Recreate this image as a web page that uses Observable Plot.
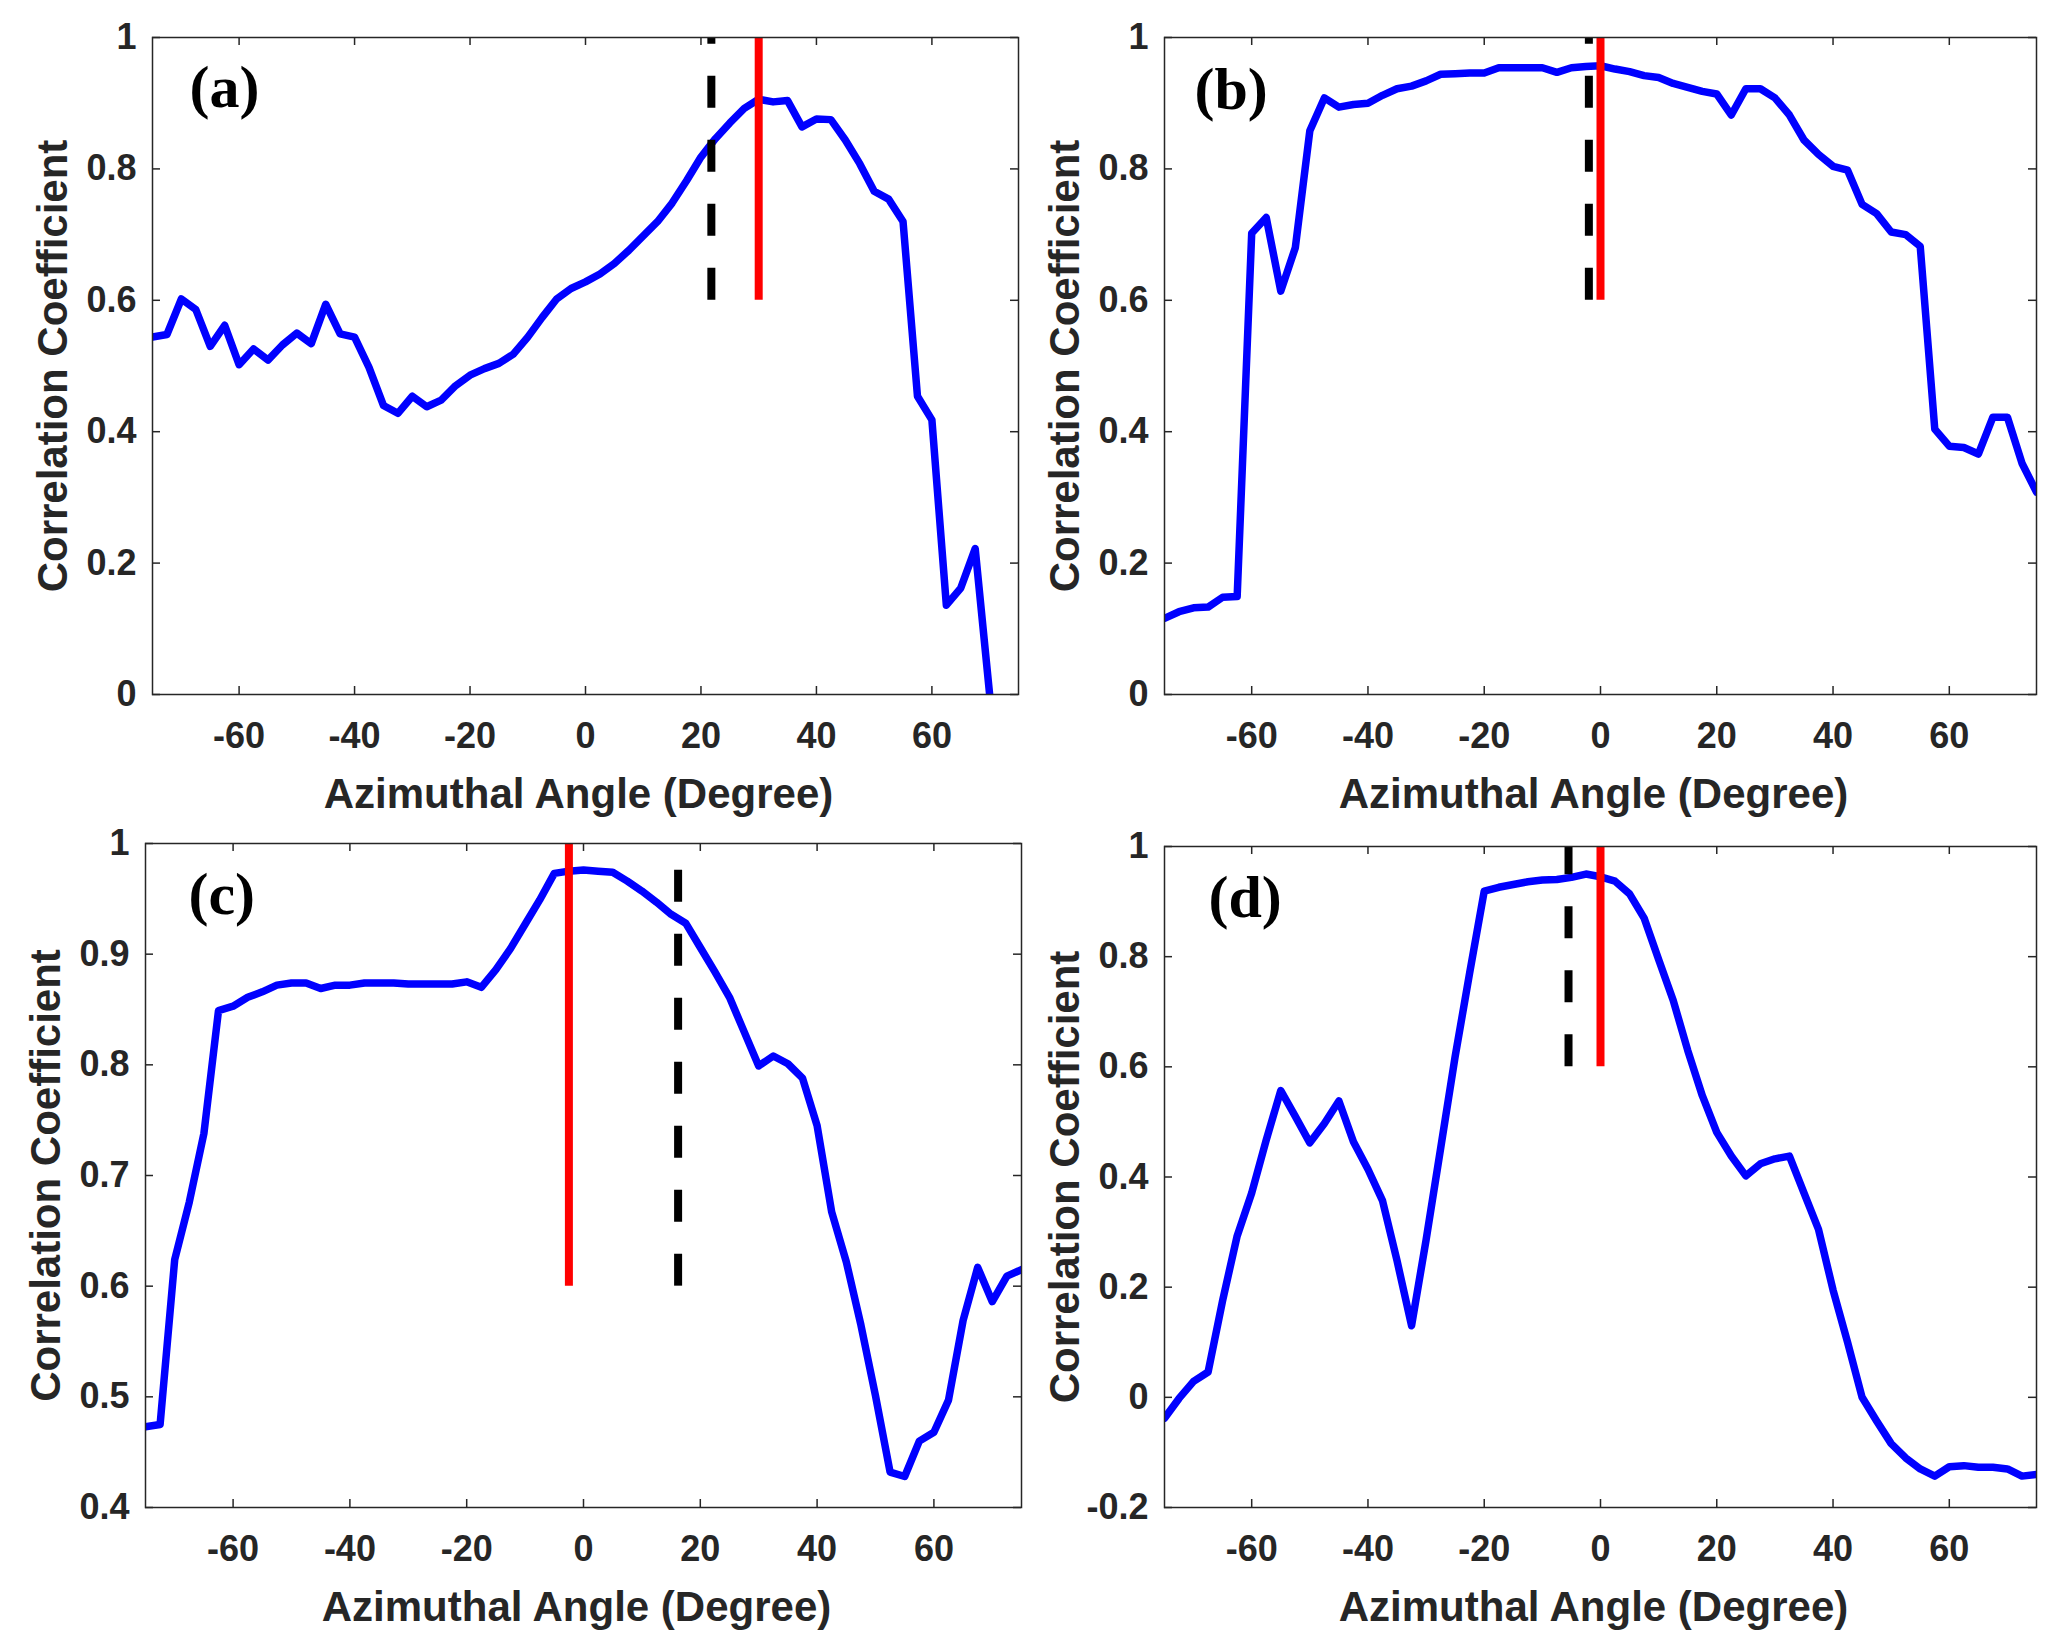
<!DOCTYPE html>
<html>
<head>
<meta charset="utf-8">
<script src="https://cdn.jsdelivr.net/npm/d3@7"></script>
<script src="https://cdn.jsdelivr.net/npm/@observablehq/plot@0.6"></script>
<style>
  html, body { margin: 0; padding: 0; background: #ffffff; }
  #fig { position: relative; width: 2064px; height: 1647px; background: #ffffff; }
  .panel { position: absolute; }
</style>
</head>
<body>
<div id="fig"></div>
<script>
// ---------------- data ----------------
const angles = [-75, -72.5, -70, -67.5, -65, -62.5, -60, -57.5, -55, -52.5, -50, -47.5, -45, -42.5, -40, -37.5,
  -35, -32.5, -30, -27.5, -25, -22.5, -20, -17.5, -15, -12.5, -10, -7.5, -5, -2.5, 0, 2.5, 5, 7.5, 10, 12.5,
  15, 17.5, 20, 22.5, 25, 27.5, 30, 32.5, 35, 37.5, 40, 42.5, 45, 47.5, 50, 52.5, 55, 57.5, 60, 62.5, 65,
  67.5, 70, 72.5, 75];

const xTicks = [-60, -40, -20, 0, 20, 40, 60];
const yTicksA = [0, 0.2, 0.4, 0.6, 0.8, 1];
const yTicksC = [0.4, 0.5, 0.6, 0.7, 0.8, 0.9, 1];
const yTicksD = [-0.2, 0, 0.2, 0.4, 0.6, 0.8, 1];

const valuesA = [0.544, 0.548, 0.602, 0.586, 0.530, 0.562, 0.502, 0.526, 0.509, 0.532, 0.550, 0.534, 0.594,
  0.549, 0.544, 0.498, 0.440, 0.428, 0.454, 0.438, 0.448, 0.470, 0.486, 0.496, 0.504, 0.518, 0.544, 0.574,
  0.602, 0.618, 0.628, 0.640, 0.656, 0.676, 0.698, 0.720, 0.748, 0.782, 0.818, 0.846, 0.870, 0.892, 0.906,
  0.902, 0.904, 0.864, 0.876, 0.875, 0.844, 0.808, 0.766, 0.754, 0.720, 0.454, 0.418, 0.136, 0.162, 0.222,
  0.000];

const valuesB = [0.116, 0.126, 0.132, 0.133, 0.148, 0.149, 0.702, 0.726, 0.614, 0.680, 0.858, 0.908, 0.894,
  0.898, 0.900, 0.912, 0.922, 0.926, 0.934, 0.944, 0.945, 0.946, 0.946, 0.954, 0.954, 0.954, 0.954, 0.947,
  0.954, 0.956, 0.957, 0.952, 0.948, 0.942, 0.939, 0.930, 0.924, 0.918, 0.914, 0.882, 0.922, 0.922, 0.908,
  0.882, 0.844, 0.822, 0.804, 0.798, 0.746, 0.732, 0.704, 0.700, 0.682, 0.404, 0.378, 0.376, 0.366, 0.422,
  0.422, 0.352, 0.308];

const valuesC = [0.473, 0.475, 0.624, 0.676, 0.738, 0.849, 0.853, 0.861, 0.866, 0.872, 0.874, 0.874, 0.869,
  0.872, 0.872, 0.874, 0.874, 0.874, 0.873, 0.873, 0.873, 0.873, 0.875, 0.870, 0.886, 0.905, 0.927, 0.949,
  0.973, 0.975, 0.976, 0.975, 0.974, 0.966, 0.957, 0.947, 0.936, 0.928, 0.906, 0.884, 0.861, 0.830, 0.799,
  0.808, 0.801, 0.788, 0.745, 0.667, 0.622, 0.565, 0.501, 0.432, 0.428, 0.460, 0.468, 0.497, 0.569, 0.617,
  0.586, 0.609, 0.615];

const valuesD = [-0.038, -0.002, 0.029, 0.046, 0.176, 0.293, 0.371, 0.467, 0.557, 0.510, 0.462, 0.497, 0.538,
  0.464, 0.414, 0.357, 0.248, 0.130, 0.286, 0.452, 0.619, 0.771, 0.919, 0.926, 0.931, 0.936, 0.939, 0.940,
  0.944, 0.950, 0.945, 0.937, 0.914, 0.870, 0.795, 0.721, 0.630, 0.548, 0.481, 0.438, 0.402, 0.424, 0.433,
  0.438, 0.371, 0.305, 0.195, 0.100, 0.000, -0.043, -0.084, -0.110, -0.130, -0.143, -0.126, -0.124, -0.127,
  -0.127, -0.130, -0.143, -0.140];

// marker lines: black dashed, red solid (angle in degrees)
const blackLines = [21.8, -2, 16.2, -5.5];
const redLines = [30, 0, -2.5, 0];
const markerRange = [0.6, 1];
const panelLabels = ["(a)", "(b)", "(c)", "(d)"];
const xLabel = "Azimuthal Angle (Degree)";
const yLabel = "Correlation Coefficient";

// ---------------- drawing ----------------
const INK = "#262626";
const SANS = "'Liberation Sans', Arial, Helvetica, sans-serif";
const SERIF = "'Liberation Serif', 'Times New Roman', serif";
const yFmt = d => String(+d.toFixed(1));

const panels = [
  {left: 0, top: 0, width: 1032, height: 824, m: [37, 14, 130, 152], values: valuesA, yDomain: [0, 1], yTicks: yTicksA, lab: [37, 50]},
  {left: 1032, top: 0, width: 1032, height: 824, m: [37, 28, 130, 132], values: valuesB, yDomain: [0, 1], yTicks: yTicksA, lab: [30, 52]},
  {left: 0, top: 824, width: 1032, height: 823, m: [19, 11, 140, 145], values: valuesC, yDomain: [0.4, 1], yTicks: yTicksC, lab: [43, 51]},
  {left: 1032, top: 824, width: 1032, height: 823, m: [22, 28, 140, 132], values: valuesD, yDomain: [-0.2, 1], yTicks: yTicksD, lab: [44, 51]}
];

const fig = document.getElementById("fig");

panels.forEach((p, i) => {
  const [mt, mr, mb, ml] = p.m;
  const plotH = p.height - mt - mb;
  const plotW = p.width - ml - mr;
  const rows = p.values.map((v, k) => ({angle: angles[k], r: v}));
  const tickLen = 8;

  const chart = Plot.plot({
    width: p.width,
    height: p.height,
    marginTop: mt, marginRight: mr, marginBottom: mb, marginLeft: ml,
    style: {fontFamily: SANS, color: INK, background: "#ffffff", overflow: "visible"},
    x: {domain: [-75, 75]},
    y: {domain: p.yDomain},
    marks: [
      // tick labels
      Plot.axisX(xTicks, {anchor: "bottom", tickSize: 0, tickPadding: 28, fontSize: 36, fontWeight: "bold",
        fill: INK, tickFormat: d => String(d), label: null}),
      Plot.axisY(p.yTicks, {anchor: "left", tickSize: 0, tickPadding: 16, fontSize: 36, fontWeight: "bold",
        fill: INK, tickFormat: yFmt, label: null}),
      // inward ticks on all four sides
      Plot.tickX(xTicks, {x: d => d, insetTop: plotH - tickLen, stroke: INK, strokeWidth: 1.5}),
      Plot.tickX(xTicks, {x: d => d, insetBottom: plotH - tickLen, stroke: INK, strokeWidth: 1.5}),
      Plot.tickY(p.yTicks, {y: d => d, insetRight: plotW - tickLen, stroke: INK, strokeWidth: 1.5}),
      Plot.tickY(p.yTicks, {y: d => d, insetLeft: plotW - tickLen, stroke: INK, strokeWidth: 1.5}),
      // data
      Plot.line(rows, {x: "angle", y: "r", stroke: "#0000ff", strokeWidth: 7.5, strokeLinejoin: "round", clip: true}),
      Plot.ruleX([blackLines[i]], {x: d => d, y1: markerRange[0], y2: markerRange[1], stroke: "#000000",
        strokeWidth: 8, strokeDasharray: "32,32"}),
      Plot.ruleX([redLines[i]], {x: d => d, y1: markerRange[0], y2: markerRange[1], stroke: "#ff0000", strokeWidth: 8}),
      Plot.frame({stroke: INK, strokeWidth: 1.5}),
      // panel label
      Plot.text([panelLabels[i]], {text: d => d, frameAnchor: "top-left", dx: p.lab[0], dy: p.lab[1],
        textAnchor: "start", lineAnchor: "middle", fontFamily: SERIF, fontWeight: "bold", fontSize: 60, fill: "#000000"}),
      // axis titles
      Plot.text([xLabel], {text: d => d, frameAnchor: "bottom", dx: -7, dy: 100, lineAnchor: "middle",
        fontSize: 42, fontWeight: "bold", fill: INK}),
      Plot.text([yLabel], {text: d => d, frameAnchor: "left", dx: -99, rotate: -90, lineAnchor: "middle",
        textAnchor: "middle", fontSize: 42, fontWeight: "bold", fill: INK})
    ]
  });
  chart.classList.add("panel");
  chart.style.left = p.left + "px";
  chart.style.top = p.top + "px";
  fig.appendChild(chart);
});
</script>
</body>
</html>
